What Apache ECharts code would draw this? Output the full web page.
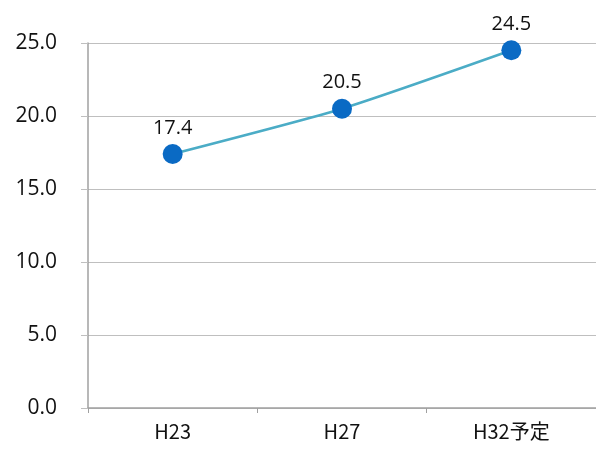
<!DOCTYPE html>
<html><head><meta charset="utf-8">
<script src="https://cdn.jsdelivr.net/npm/echarts@6/dist/echarts.min.js"></script>
<style>html,body{margin:0;padding:0;background:#fff}#c{width:596px;height:450px}</style>
</head><body><div id="c"></div>
<script>
const categories = ["H23", "H27", "H32予定"];
const values = [17.4, 20.5, 24.5];
const yTicks = { min: 0, max: 25, interval: 5 };

const chart = echarts.init(document.getElementById('c'), null, {renderer: 'canvas'});
chart.setOption({
  animation: false,
  grid: { left: 88, right: 0, top: 43, bottom: 42 },
  xAxis: {
    type: 'category',
    data: categories,
    boundaryGap: true,
    axisLine: { lineStyle: { color: '#a0a0a0', width: 1.5 } },
    axisTick: { show: true, length: 5, lineStyle: { color: '#a0a0a0' } },
    axisLabel: { color: '#111', fontSize: 20, fontFamily: 'Noto Sans CJK JP', margin: 13 }
  },
  yAxis: {
    type: 'value',
    min: yTicks.min, max: yTicks.max, interval: yTicks.interval,
    axisLine: { show: true, lineStyle: { color: '#a0a0a0', width: 1.5 } },
    axisTick: { show: true, inside: false, length: 7, lineStyle: { color: '#bfbfbf' } },
    splitLine: { lineStyle: { color: '#bfbfbf', width: 1 } },
    axisLabel: { color: '#111', fontSize: 21, fontFamily: 'Open Sans', margin: 31,
      formatter: v => v.toFixed(1) }
  },
  series: [{
    type: 'line',
    data: values,
    smooth: 0.2,
    symbol: 'circle',
    symbolSize: 20,
    itemStyle: { color: '#0a6ac4' },
    lineStyle: { color: '#4bacc6', width: 2.5 },
    label: { show: true, position: 'top', distance: 6, color: '#111', fontSize: 20,
      fontFamily: 'Open Sans', formatter: p => p.value.toFixed(1) }
  }]
});
</script></body></html>
